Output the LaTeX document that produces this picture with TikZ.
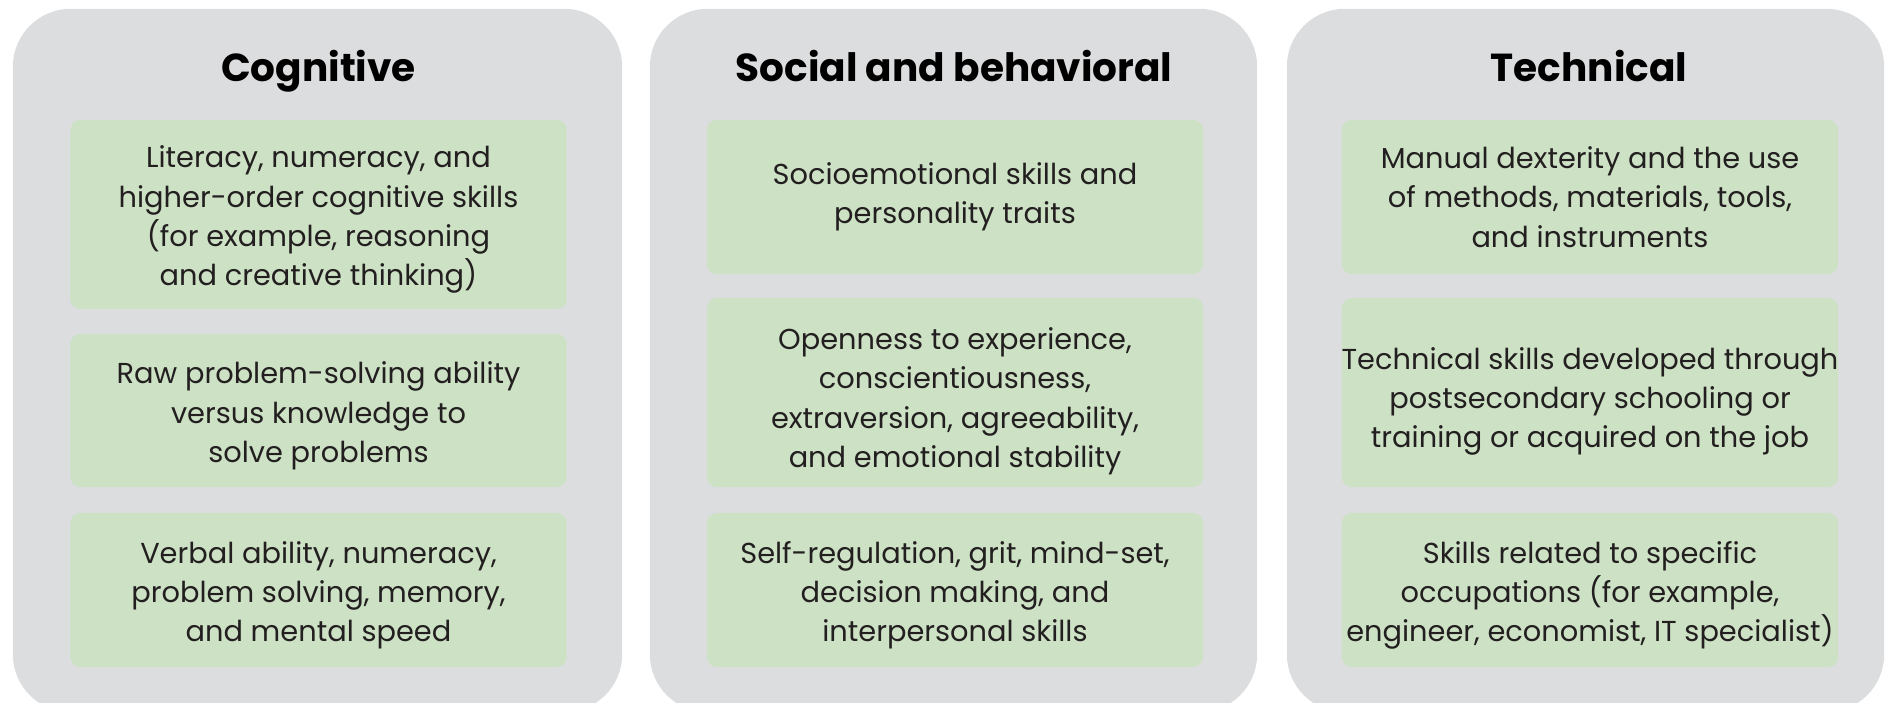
\documentclass[tikz,border=0pt]{standalone}
\usepackage{fontspec}
\setmainfont{Poppins}
\definecolor{panelgray}{HTML}{DCDDDF}
\definecolor{boxgreen}{HTML}{CDE2C5}
\definecolor{bodytext}{HTML}{231F20}
\tikzset{
  panel/.style={fill=panelgray, draw=none, rounded corners=0.58cm, inner sep=0pt},
  gbox/.style={fill=boxgreen, draw=none, rounded corners=0.1cm, inner sep=0pt,
    minimum width=4.96cm},
  gtxt/.style={inner sep=0pt, align=center, text=bodytext,
    font=\fontsize{8.2}{11.2}\selectfont},
  ttl/.style={inner sep=0pt, anchor=base, font=\bfseries\fontsize{11.1}{13}\selectfont, text=black}
}
\begin{document}
\begin{tikzpicture}[x=0.01cm,y=-0.01cm]
\useasboundingbox (0,0) rectangle (1885,702);
% panels
\node[panel, minimum width=6.09cm, minimum height=7.03cm] (p1) at (317.5,360.5) {};
\node[panel, minimum width=6.07cm, minimum height=7.03cm] (p2) at (953.5,360.5) {};
\node[panel, minimum width=5.97cm, minimum height=7.03cm] (p3) at (1585.5,360.5) {};
% titles
\node[ttl] (t1) at (318.5,81) {Cognitive};
\node[ttl] (t2) at (954,81) {Social and behavioral};
\node[ttl] (t3) at (1589,81) {Technical};
% column 1
\node[gbox, minimum height=1.89cm] (c11) at (318.5,214.5) {};
\node[gtxt] (c11t) at ([yshift=-1.5pt]c11.center) {Literacy, numeracy, and\\higher-order cognitive skills\\(for example, reasoning\\and creative thinking)};
\node[gbox, minimum height=1.53cm] (c12) at (318.5,410.5) {};
\node[gtxt] (c12t) at ([yshift=-1.5pt]c12.center) {Raw problem-solving ability\\versus knowledge to\\solve problems};
\node[gbox, minimum height=1.54cm] (c13) at (318.5,590) {};
\node[gtxt] (c13t) at ([yshift=-1.5pt]c13.center) {Verbal ability, numeracy,\\problem solving, memory,\\and mental speed};
% column 2
\node[gbox, minimum height=1.54cm] (c21) at (955,197) {};
\node[gtxt] (c21t) at ([yshift=0pt]c21.center) {Socioemotional skills and\\personality traits};
\node[gbox, minimum height=1.89cm] (c22) at (955,392.5) {};
\node[gtxt] (c22t) at ([yshift=-2.5pt]c22.center) {Openness to experience,\\conscientiousness,\\extraversion, agreeability,\\and emotional stability};
\node[gbox, minimum height=1.54cm] (c23) at (955,590) {};
\node[gtxt] (c23t) at ([yshift=-1.5pt]c23.center) {Self-regulation, grit, mind-set,\\decision making, and\\interpersonal skills};
% column 3
\node[gbox, minimum height=1.54cm] (c31) at (1590,197) {};
\node[gtxt] (c31t) at ([yshift=0pt]c31.center) {Manual dexterity and the use\\of methods, materials, tools,\\and instruments};
\node[gbox, minimum height=1.89cm] (c32) at (1590,392.5) {};
\node[gtxt] (c32t) at ([yshift=-2.5pt]c32.center) {Technical skills developed through\\postsecondary schooling or\\training or acquired on the job};
\node[gbox, minimum height=1.54cm] (c33) at (1590,590) {};
\node[gtxt] (c33t) at ([yshift=-1.5pt]c33.center) {Skills related to specific\\occupations (for example,\\engineer, economist, IT specialist)};
\end{tikzpicture}
\end{document}
